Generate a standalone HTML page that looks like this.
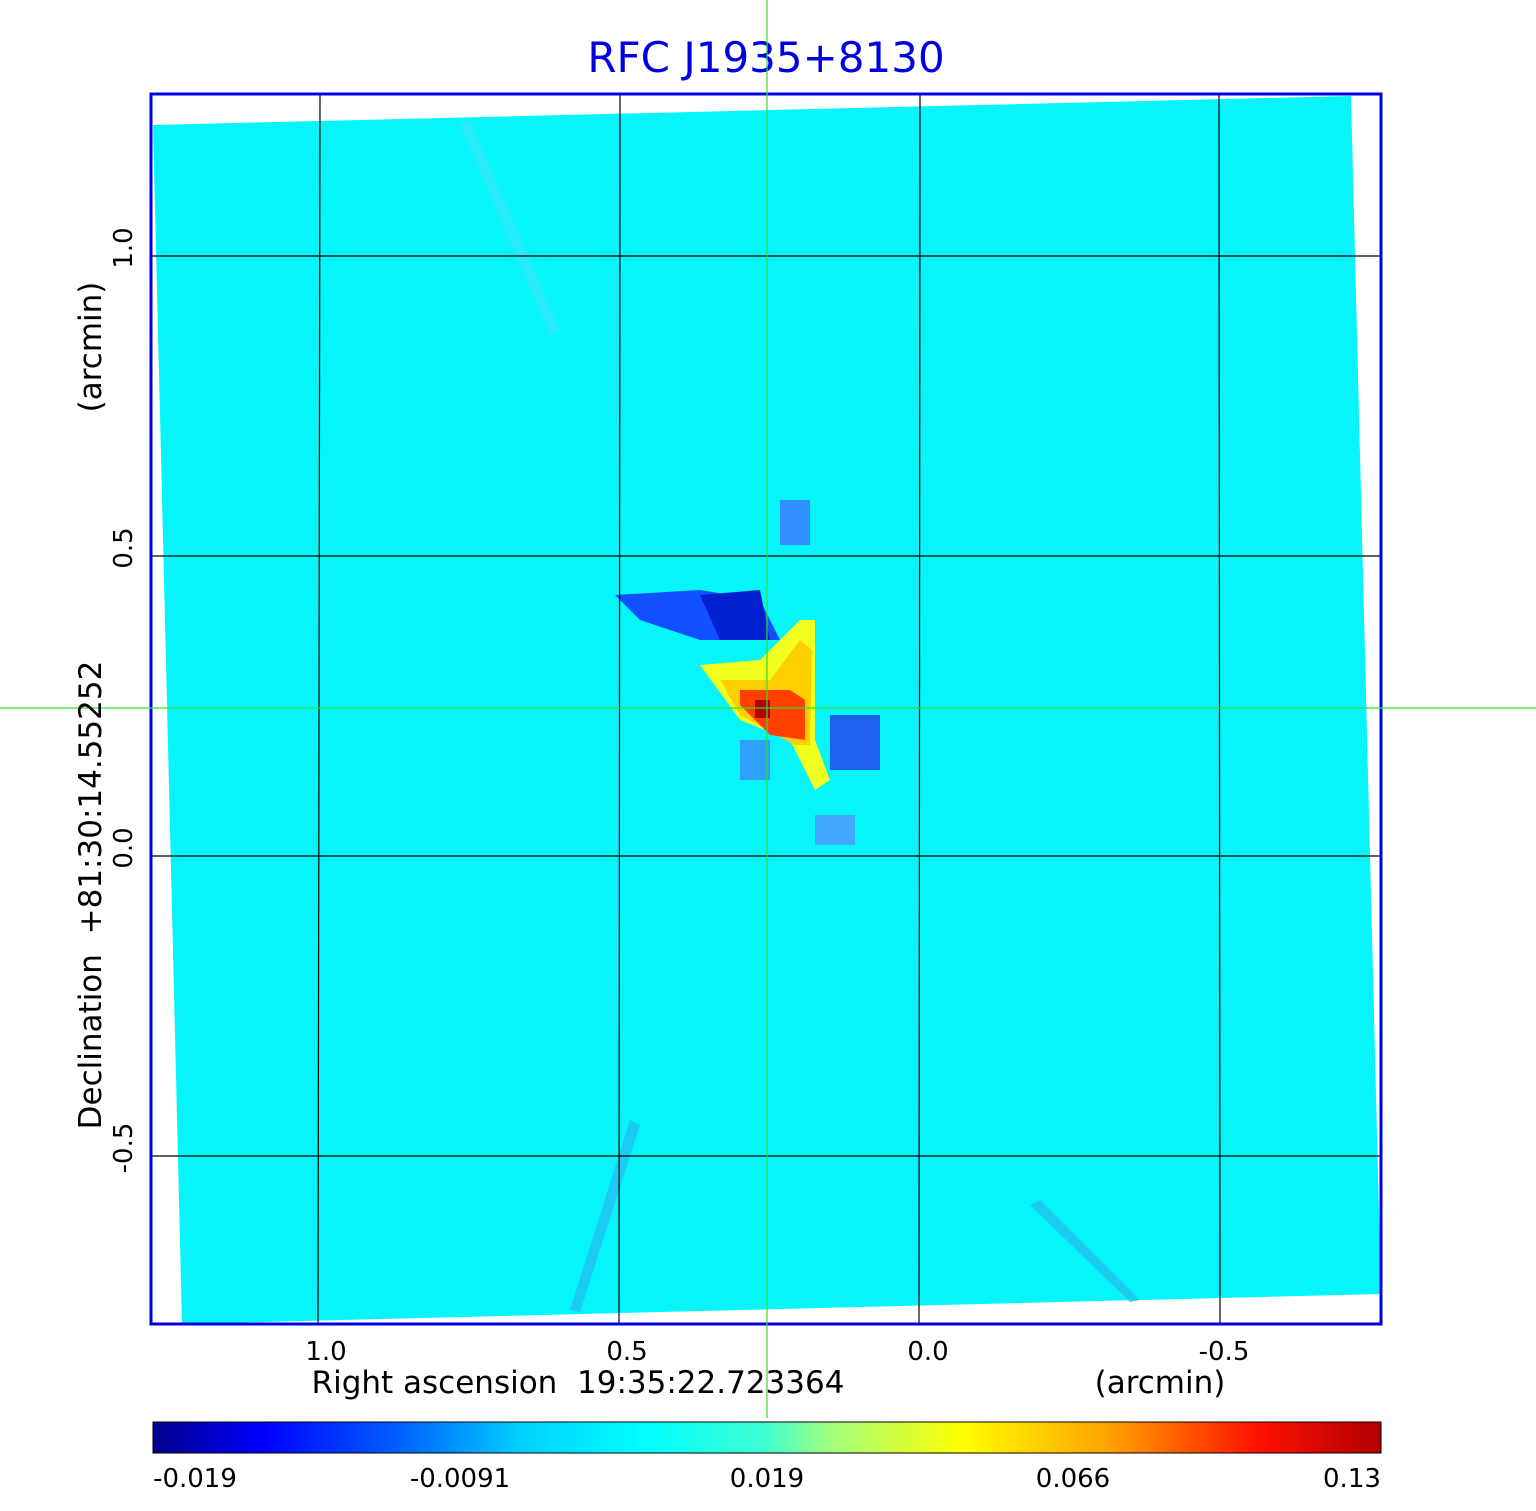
<!DOCTYPE html>
<html><head><meta charset="utf-8"><style>
body{margin:0;background:#fff;}
svg{display:block;font-family:"DejaVu Sans","Liberation Sans",sans-serif;}
text{white-space:pre;}
</style></head><body>
<svg width="1536" height="1511" viewBox="0 0 1536 1511">
<defs>
<linearGradient id="cb" x1="0" x2="1" y1="0" y2="0">
<stop offset="0" stop-color="#00008b"/>
<stop offset="0.09" stop-color="#0000ff"/>
<stop offset="0.2" stop-color="#0060ff"/>
<stop offset="0.3" stop-color="#00d0ff"/>
<stop offset="0.4" stop-color="#00ffff"/>
<stop offset="0.5" stop-color="#40ffd0"/>
<stop offset="0.55" stop-color="#a0ff80"/>
<stop offset="0.66" stop-color="#ffff00"/>
<stop offset="0.78" stop-color="#ffa000"/>
<stop offset="0.9" stop-color="#ff1000"/>
<stop offset="1" stop-color="#b00000"/>
</linearGradient>
</defs>
<text x="766" y="72" font-size="42" fill="#0000e0" text-anchor="middle">RFC J1935+8130</text>
<polygon points="153,125 1351,96 1381,1294 182,1324" fill="#05f5fa"/>
<g opacity="0.8">
<polygon points="470,120 560,330 550,335 460,125" fill="#30e8f8"/>
<polygon points="630,1120 570,1310 580,1312 640,1125" fill="#20c0f0"/>
<polygon points="1040,1200 1140,1300 1130,1302 1030,1205" fill="#20c0f0"/>
</g>
<polygon points="615,595 700,590 760,600 780,640 700,640 640,620" fill="#1050ff"/>
<polygon points="700,595 760,590 770,640 720,640" fill="#0020d0"/>
<rect x="780" y="500" width="30" height="45" fill="#3090ff"/>
<rect x="830" y="715" width="50" height="55" fill="#2060f0"/>
<rect x="740" y="740" width="30" height="40" fill="#30a0ff"/>
<rect x="815" y="815" width="40" height="30" fill="#40a8ff"/>
<polygon points="700,665 760,660 800,620 815,620 815,740 830,780 815,790 790,740 740,720" fill="#f0ff20"/>
<polygon points="720,680 770,680 800,640 812,650 810,745 795,745 740,715" fill="#ffd000"/>
<polygon points="740,690 790,690 805,700 805,740 770,735 740,705" fill="#ff4000"/>
<rect x="755" y="700" width="15" height="18" fill="#b00000"/>
<g stroke="#000" stroke-width="1.2">
<line x1="320" y1="94" x2="318" y2="1324"/>
<line x1="620" y1="94" x2="619" y2="1324"/>
<line x1="920" y1="94" x2="919" y2="1324"/>
<line x1="1219" y1="94" x2="1220" y2="1324"/>
<line x1="151" y1="256" x2="1381" y2="256"/>
<line x1="151" y1="556" x2="1381" y2="556"/>
<line x1="151" y1="856" x2="1381" y2="856"/>
<line x1="151" y1="1156" x2="1381" y2="1156"/>
</g>
<rect x="151" y="94" width="1230" height="1230" fill="none" stroke="#0000e0" stroke-width="3"/>
<g stroke="#30e030" stroke-width="1.2">
<line x1="767" y1="0" x2="767" y2="1418"/>
<line x1="0" y1="708" x2="1536" y2="708"/>
</g>
<g font-size="26" fill="#000" text-anchor="middle">
<text x="326" y="1360">1.0</text>
<text x="627" y="1360">0.5</text>
<text x="928" y="1360">0.0</text>
<text x="1224" y="1360">-0.5</text>
<text x="578" y="1393" font-size="31" xml:space="preserve">Right ascension  19:35:22.723364</text>
<text x="1160" y="1393" font-size="31">(arcmin)</text>
<text transform="translate(132,248) rotate(-90)">1.0</text>
<text transform="translate(132,548) rotate(-90)">0.5</text>
<text transform="translate(132,848) rotate(-90)">0.0</text>
<text transform="translate(132,1148) rotate(-90)">-0.5</text>
<text transform="translate(101,895) rotate(-90)" font-size="31" xml:space="preserve">Declination  +81:30:14.55252</text>
<text transform="translate(101,347) rotate(-90)" font-size="31">(arcmin)</text>
</g>
<rect x="153" y="1422" width="1228" height="31" fill="url(#cb)" stroke="#000" stroke-width="1"/>
<g font-size="26" fill="#000" text-anchor="middle">
<text x="195" y="1487">-0.019</text>
<text x="460" y="1487">-0.0091</text>
<text x="767" y="1487">0.019</text>
<text x="1073" y="1487">0.066</text>
<text x="1352" y="1487">0.13</text>
</g>
</svg>
</body></html>
